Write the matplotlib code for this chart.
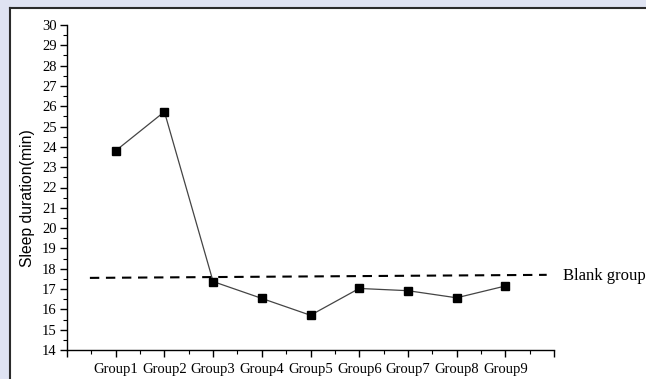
import numpy as np
import matplotlib
matplotlib.use("Agg")
from matplotlib import pyplot as plt
from matplotlib.lines import Line2D
from matplotlib.patches import Rectangle
from matplotlib.ticker import MultipleLocator

groups = ["Group1", "Group2", "Group3", "Group4", "Group5",
          "Group6", "Group7", "Group8", "Group9"]
sleep = [23.81, 25.73, 17.37, 16.54, 15.71, 17.03, 16.92, 16.57, 17.15]
blank_x = [0.47, 9.85]
blank_y = [17.55, 17.70]
blank_label = "Blank group"

W, H = 646, 379
fig = plt.figure(figsize=(W / 100, H / 100), dpi=100)
fig.patch.set_facecolor("#dfe3f2")

# white panel with dark top/left border
fig.patches.append(Rectangle((10 / W, 0), 1, 1 - 8 / H, transform=fig.transFigure,
                             facecolor="white", edgecolor="none", zorder=-10))
fig.lines.append(Line2D([10 / W, 1], [1 - 8 / H, 1 - 8 / H], transform=fig.transFigure,
                        color="#2b2b2b", lw=1.5, zorder=-5))
fig.lines.append(Line2D([10 / W, 10 / W], [0, 1 - 8 / H], transform=fig.transFigure,
                        color="#2b2b2b", lw=1.5, zorder=-5))

ax = fig.add_axes([67 / W, 29 / H, 487 / W, 325 / H])
ax.set_facecolor("none")
ax.set_zorder(5)

x = np.arange(1, len(groups) + 1)
ax.plot(x, sleep, color="#444444", lw=0.9, marker="s", ms=5.6,
        mfc="black", mec="black", zorder=3)
ax.plot(blank_x, blank_y, color="black", lw=1.5, dashes=(4.5, 3.2), zorder=2)
ax.text(10.18, np.mean(blank_y), blank_label, ha="left", va="center",
        family="Liberation Serif", fontsize=12, clip_on=False)

ax.set_xlim(0, 10)
ax.set_ylim(14, 30)
ax.set_xticks(np.arange(0, 11))
ax.set_xticklabels([""] + groups + [""])
ax.xaxis.set_minor_locator(MultipleLocator(0.5))
ax.yaxis.set_major_locator(MultipleLocator(1))
ax.yaxis.set_minor_locator(MultipleLocator(0.5))

for s in ["top", "right"]:
    ax.spines[s].set_visible(False)
for s in ["left", "bottom"]:
    ax.spines[s].set_linewidth(1.0)

ax.tick_params(which="major", direction="out", length=5, width=1.0,
               labelsize=10.5, pad=2.5)
ax.tick_params(which="minor", direction="out", length=3, width=0.8)
ax.tick_params(axis="x", which="major", pad=4)
for lab in ax.get_xticklabels() + ax.get_yticklabels():
    lab.set_family("Liberation Serif")

ax.set_ylabel("Sleep duration(min)", family="Liberation Sans", fontsize=11.3)
ax.yaxis.set_label_coords(-32 / 487, 0.468)

fig.savefig("out.png", dpi=100, facecolor=fig.get_facecolor())
